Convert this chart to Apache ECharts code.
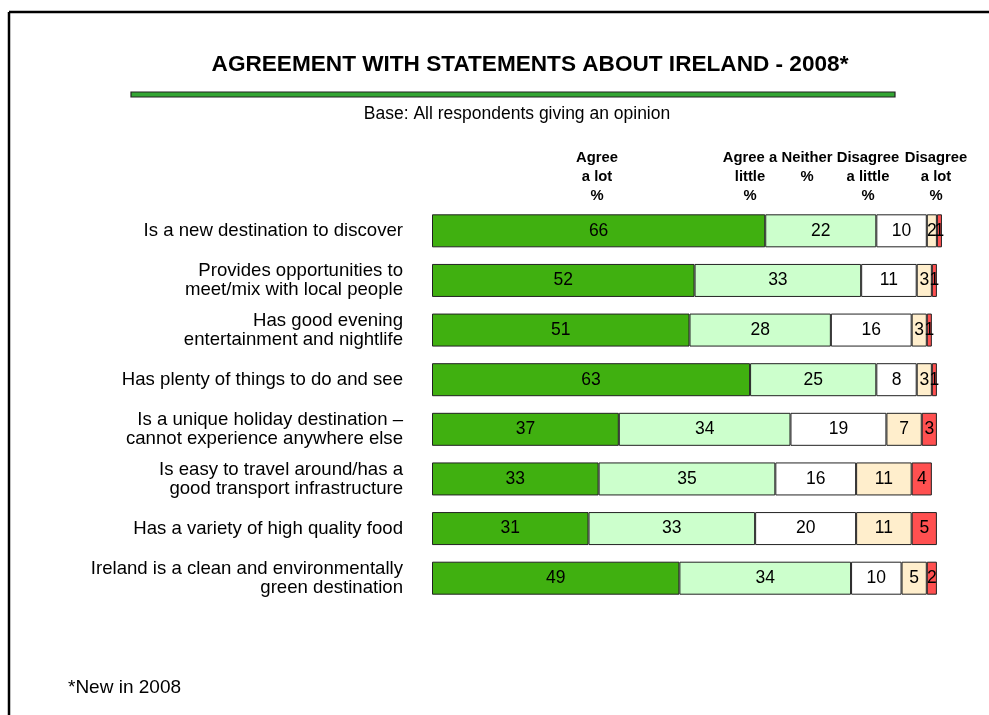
<!DOCTYPE html>
<html><head><meta charset="utf-8">
<script src="https://cdn.jsdelivr.net/npm/echarts@6/dist/echarts.min.js"></script>
<style>html,body{margin:0;padding:0;background:#fff}#c{width:989px;height:715px}</style>
</head><body><div id="c"></div>
<script>
const categories = [
  "Is a new destination to discover",
  "Provides opportunities to\nmeet/mix with local people",
  "Has good evening\nentertainment and nightlife",
  "Has plenty of things to do and see",
  "Is a unique holiday destination –\ncannot experience anywhere else",
  "Is easy to travel around/has a\ngood transport infrastructure",
  "Has a variety of high quality food",
  "Ireland is a clean and environmentally\ngreen destination"
];
const agreeALot      = [66, 52, 51, 63, 37, 33, 31, 49];
const agreeALittle   = [22, 33, 28, 25, 34, 35, 33, 34];
const neither        = [10, 11, 16, 8, 19, 16, 20, 10];
const disagreeLittle = [2, 3, 3, 3, 7, 11, 11, 5];
const disagreeALot   = [1, 1, 1, 1, 3, 4, 5, 2];
const seriesNames = ["Agree\na lot\n%", "Agree a\nlittle\n%", "Neither\n%", "Disagree\na little\n%", "Disagree\na lot\n%"];
const colors = ["#40b010", "#ccffcc", "#ffffff", "#ffeecc", "#ff5050"];

const chart = echarts.init(document.getElementById('c'), null, {renderer: 'canvas'});
const FONT = 'Liberation Sans, Arial, sans-serif';
const values = [agreeALot, agreeALittle, neither, disagreeLittle, disagreeALot];
const series = values.map((v, i) => ({
  name: seriesNames[i],
  type: 'bar',
  stack: 'total',
  data: v,
  barWidth: 33,
  clip: false,
  itemStyle: {color: colors[i], borderColor: '#222', borderWidth: 1},
  label: {show: true, position: 'inside', color: '#000', fontSize: 17.5, fontFamily: FONT}
}));

const headerX = [597, 750, 807, 868, 936];
const headerGraphics = seriesNames.map((n, i) => ({
  type: 'text', x: headerX[i], y: 148,
  style: {text: n, textAlign: 'center', font: 'bold 14.8px ' + FONT, fill: '#000', lineHeight: 19}
}));

chart.setOption({
  animation: false,
  backgroundColor: '#fff',
  grid: {left: 432, top: 206, width: 515, height: 397, containLabel: false},
  xAxis: {type: 'value', min: 0, max: 102, show: false},
  yAxis: {
    type: 'category', data: categories, inverse: true,
    axisLine: {show: false}, axisTick: {show: false},
    axisLabel: {color: '#000', fontSize: 18.6, fontFamily: FONT, margin: 29, lineHeight: 19, align: 'right', padding: [2, 0, 0, 0]}
  },
  series: series,
  graphic: [
    {type: 'line', shape: {x1: 9, y1: 12, x2: 989, y2: 12}, style: {stroke: '#000', lineWidth: 2.5}},
    {type: 'line', shape: {x1: 9, y1: 12, x2: 9, y2: 715}, style: {stroke: '#000', lineWidth: 2.5}},
    {type: 'text', x: 530, y: 53, style: {text: 'AGREEMENT WITH STATEMENTS ABOUT IRELAND - 2008*', textAlign: 'center', font: 'bold 22.6px ' + FONT, fill: '#000'}},
    {type: 'rect', shape: {x: 131, y: 92, width: 764, height: 5}, style: {fill: '#33a533', stroke: '#222', lineWidth: 1.2}},
    {type: 'text', x: 517, y: 105, style: {text: 'Base: All respondents giving an opinion', textAlign: 'center', font: '17.5px ' + FONT, fill: '#000'}},
    {type: 'text', x: 68, y: 678, style: {text: '*New in 2008', font: '19px ' + FONT, fill: '#000'}}
  ].concat(headerGraphics)
});
</script></body></html>
